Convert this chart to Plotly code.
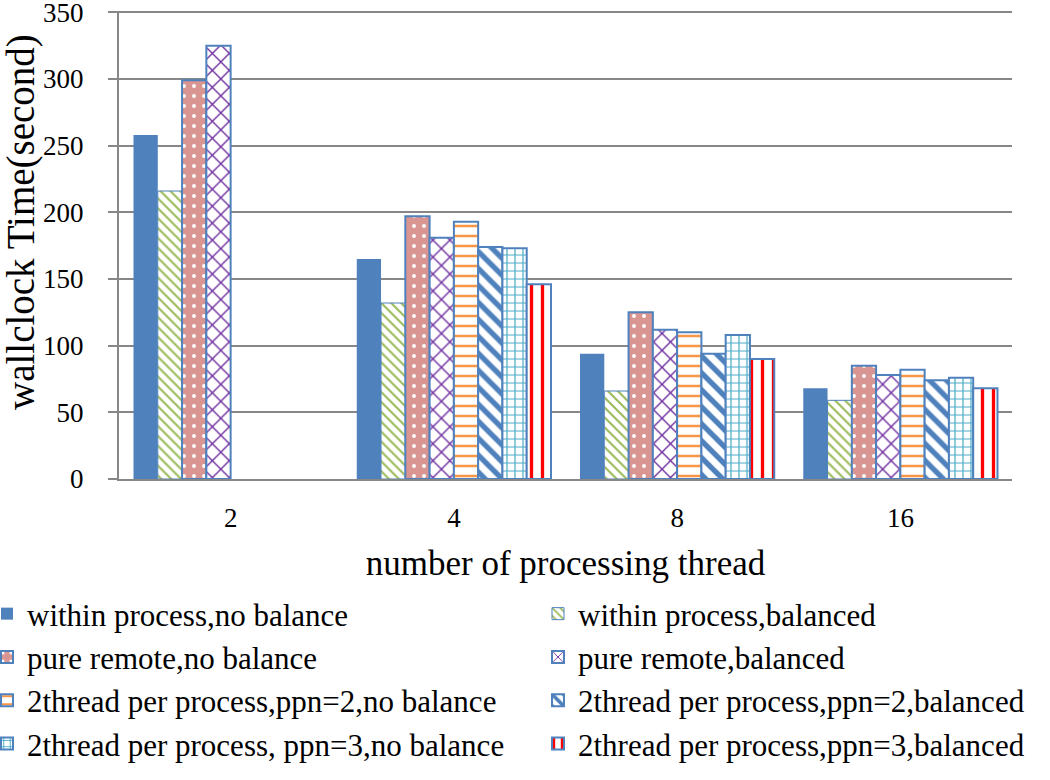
import plotly.graph_objects as go

categories = ["2", "4", "8", "16"]

series_names = [
    "within process,no balance",
    "within process,balanced",
    "pure remote,no balance",
    "pure remote,balanced",
    "2thread per process,ppn=2,no balance",
    "2thread per process,ppn=2,balanced",
    "2thread per process, ppn=3,no balance",
    "2thread per process,ppn=3,balanced",
]

within_no_balance = [258, 165, 94, 68]
within_balanced = [216, 132, 66, 59]
remote_no_balance = [299, 197, 125, 85]
remote_balanced = [325, 181, 112, 78]
ppn2_no_balance = [None, 193, 110, 82]
ppn2_balanced = [None, 174, 94, 74]
ppn3_no_balance = [None, 173, 108, 76]
ppn3_balanced = [None, 146, 90, 68]

values = [within_no_balance, within_balanced, remote_no_balance, remote_balanced,
          ppn2_no_balance, ppn2_balanced, ppn3_no_balance, ppn3_balanced]

y_ticks = [0, 50, 100, 150, 200, 250, 300, 350]

BLUE = "#4F81BD"
styles = [
    dict(color=BLUE, line=dict(color=BLUE, width=0)),
    dict(color="white", line=dict(color=BLUE, width=1),
         pattern=dict(shape="\\", fgcolor="#9BBB59", bgcolor="white", size=7, solidity=0.3, fillmode="replace")),
    dict(color="#D99592", line=dict(color=BLUE, width=2),
         pattern=dict(shape=".", fgcolor="white", bgcolor="#D99592", size=10, solidity=0.12, fillmode="replace")),
    dict(color="white", line=dict(color=BLUE, width=2),
         pattern=dict(shape="x", fgcolor="#7030A0", bgcolor="white", size=12, solidity=0.22, fillmode="replace")),
    dict(color="white", line=dict(color=BLUE, width=2),
         pattern=dict(shape="-", fgcolor="#F79646", bgcolor="white", size=10, solidity=0.25, fillmode="replace")),
    dict(color="white", line=dict(color=BLUE, width=2),
         pattern=dict(shape="\\", fgcolor=BLUE, bgcolor="white", size=12, solidity=0.45, fillmode="replace")),
    dict(color="white", line=dict(color=BLUE, width=2),
         pattern=dict(shape="+", fgcolor="#4BACC6", bgcolor="white", size=8, solidity=0.28, fillmode="replace")),
    dict(color="white", line=dict(color=BLUE, width=2),
         pattern=dict(shape="|", fgcolor="#FF0000", bgcolor="white", size=11, solidity=0.3, fillmode="replace")),
]

fig = go.Figure()
for i, (name, vals, st) in enumerate(zip(series_names, values, styles)):
    fig.add_trace(go.Bar(x=categories, y=vals, name=name, marker=st,
                         legend="legend" if i % 2 == 0 else "legend2"))

GRID = "#878787"
FONT = "Liberation Serif"
L, R, T, B = 119, 38, 11, 301
PW = 1050 - L - R
PH = 780 - T - B

leg_common = dict(orientation="v", yanchor="top", xanchor="left", traceorder="normal",
                  font=dict(family=FONT, size=31, color="black"), bgcolor="rgba(0,0,0,0)")

fig.update_layout(
    width=1050, height=780,
    margin=dict(l=L, r=R, t=T, b=B, autoexpand=False),
    paper_bgcolor="white", plot_bgcolor="white",
    barmode="group", bargap=0.13, bargroupgap=0,
    font=dict(family=FONT, color="black", size=27),
    legend=dict(x=(-13 - L) / PW, y=(780 - B - 587) / PH, **leg_common),
    legend2=dict(x=(538 - L) / PW, y=(780 - B - 587) / PH, **leg_common),
    xaxis=dict(type="category", showgrid=False, showline=True, linecolor=GRID, linewidth=2,
               ticks="", tickfont=dict(size=27), ticklabelstandoff=14,
               title=dict(text="number of processing thread", font=dict(size=35), standoff=18)),
    yaxis=dict(range=[0, 351], autorange=False, tickvals=y_ticks,
               showgrid=True, gridcolor=GRID, gridwidth=2,
               showline=True, linecolor=GRID, linewidth=2, ticks="outside", ticklen=9,
               tickcolor=GRID, tickwidth=2, tickfont=dict(size=27), ticklabelstandoff=19,
               ticklabeloverflow="allow", zeroline=False),
)
fig.add_annotation(text="wallclock Time(second)", textangle=-90, showarrow=False,
                   xref="paper", yref="paper", x=(21 - L) / PW, y=(780 - B - 222) / PH,
                   xanchor="center", yanchor="middle", font=dict(family=FONT, size=39, color="black"))

fig.write_html("out.html", config={"displayModeBar": False},
               post_script="document.body.style.margin='0';")
